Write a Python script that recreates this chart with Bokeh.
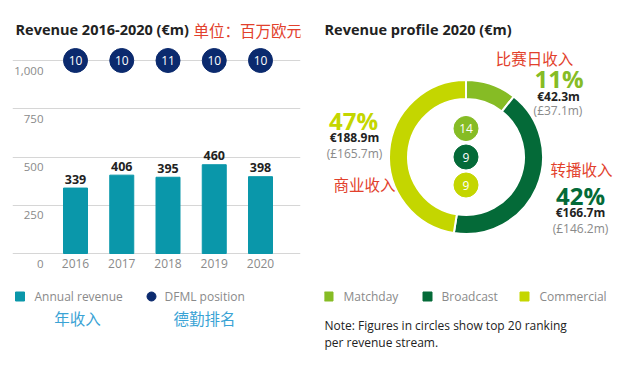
import math
from bokeh.plotting import figure
from bokeh.layouts import row
from bokeh.models import Range1d, FixedTicker, Label
from bokeh.core.properties import value
from bokeh.embed import file_html
from bokeh.resources import INLINE

# ---------------- data ----------------
years = ["2016", "2017", "2018", "2019", "2020"]
revenue = [339, 406, 395, 460, 398]
dfml_position = [10, 10, 11, 10, 10]
y_ticks = [0, 250, 500, 750, 1000]
y_tick_labels = ["0", "250", "500", "750", "1,000"]

streams = ["Matchday", "Broadcast", "Commercial"]
streams_cn = ["比赛日收入", "转播收入", "商业收入"]
revenue_eur = [42.3, 166.7, 188.9]
revenue_gbp = [37.1, 146.2, 165.7]
share_pct = [11, 42, 47]
stream_rank = [14, 9, 9]

# ---------------- styles ----------------
FONT = "Open Sans"
CJK = "Noto Sans CJK SC"
TEAL = "#0a97aa"
NAVY = "#0b2a6e"
RED = "#e2412c"
BLUE_CN = "#3aa3d5"
GRID = "#d6d6d6"
GREY = "#8a8a8a"
DARK = "#222222"
STREAM_COLORS = ["#86bc25", "#046a38", "#c4d600"]

# ---------------- left: bar chart ----------------
# page-pixel geometry of the left panel
X0_PX, STEP_PX = 75.0, 46.25        # centre of first bar, bar spacing
Y0_PX, PX_PER_UNIT = 253.0, 0.193   # zero line, pixels per EUR m
LEFT_W, H = 324, 363
FRAME_L, FRAME_R = 12, 300


def lx(px):
    return (px - X0_PX) / STEP_PX


def ly(py):
    return (Y0_PX - py) / PX_PER_UNIT


pl = figure(width=LEFT_W, height=H, output_backend="svg", toolbar_location=None,
            x_axis_location=None, y_axis_location=None,
            x_range=Range1d(lx(FRAME_L), lx(FRAME_R)), y_range=Range1d(ly(H), ly(0)),
            min_border_left=FRAME_L, min_border_right=LEFT_W - FRAME_R,
            min_border_top=0, min_border_bottom=0)
pl.outline_line_color = None
pl.background_fill_color = "white"
pl.border_fill_color = "white"
pl.xgrid.visible = False
pl.ygrid.ticker = FixedTicker(ticks=y_ticks)
pl.ygrid.grid_line_color = GRID
pl.ygrid.grid_line_width = 1

idx = list(range(len(years)))
pl.vbar(x=idx, top=revenue, bottom=0, width=24 / STEP_PX, color=TEAL)

# y tick labels (placed under their gridlines)
pl.text(x=[lx(43)] * len(y_ticks), y=y_ticks, text=y_tick_labels, y_offset=10,
        text_align="right", text_baseline="middle", text_font=value(FONT),
        text_font_size="11.5px", text_color=GREY)
# year labels
pl.text(x=idx, y=[0] * len(idx), text=years, y_offset=10, text_align="center",
        text_baseline="middle", text_font=value(FONT), text_font_size="12px",
        text_color=GREY)
# bar value labels
pl.text(x=idx, y=revenue, text=[str(v) for v in revenue], y_offset=-9,
        text_align="center", text_baseline="middle", text_font=value(FONT),
        text_font_size="12.5px", text_font_style="bold", text_color=DARK)
# DFML position circles on the top gridline
top = [y_ticks[-1]] * len(idx)
pl.scatter(x=idx, y=top, size=24, color=NAVY)
pl.text(x=idx, y=top, text=[str(v) for v in dfml_position], text_align="center",
        text_baseline="middle", text_font=value(FONT), text_font_size="12px",
        text_color="white")

# titles
pl.add_layout(Label(x=lx(15), y=ly(29), text="Revenue 2016-2020 (€m)", text_font=FONT,
                    text_font_size="14.5px", text_font_style="bold", text_color=DARK,
                    text_baseline="middle", text_align="left"))
pl.add_layout(Label(x=lx(193), y=ly(29), text="单位：百万欧元", text_font=CJK,
                    text_font_size="15.5px", text_color=RED,
                    text_baseline="middle", text_align="left"))
# legend
pl.scatter(x=[lx(19.5)], y=[ly(296)], marker="square", size=9, color=TEAL)
pl.scatter(x=[lx(151)], y=[ly(296)], marker="circle", size=9, color=NAVY)
for tx, txt in ((34, "Annual revenue"), (164, "DFML position")):
    pl.add_layout(Label(x=lx(tx), y=ly(296), text=txt, text_font=FONT, text_font_size="12px",
                        text_color=GREY, text_baseline="middle", text_align="left"))
for tx, txt in ((77, "年收入"), (204, "德勤排名")):
    pl.add_layout(Label(x=lx(tx), y=ly(317), text=txt, text_font=CJK, text_font_size="15.5px",
                        text_color=BLUE_CN, text_baseline="middle", text_align="center"))

# ---------------- right: donut ----------------
RIGHT_X0, RIGHT_W = 324, 312


def ry(py):
    return 371 - py


pr = figure(width=RIGHT_W, height=H, output_backend="svg", toolbar_location=None,
            x_axis_location=None, y_axis_location=None,
            x_range=Range1d(RIGHT_X0, RIGHT_X0 + RIGHT_W), y_range=Range1d(ry(H), ry(0)),
            min_border_left=0, min_border_right=0, min_border_top=0, min_border_bottom=0)
pr.outline_line_color = None
pr.grid.visible = False
pr.background_fill_color = "white"
pr.border_fill_color = "white"

CX, CY = 465.5, ry(156.5)
total = sum(revenue_eur)
starts, ends = [], []
cum = 0.0
for v in revenue_eur:
    starts.append(math.pi / 2 - 2 * math.pi * cum)
    cum += v / total
    ends.append(math.pi / 2 - 2 * math.pi * cum)
pr.annular_wedge(x=[CX] * 3, y=[CY] * 3, inner_radius=58, outer_radius=77,
                 start_angle=starts, end_angle=ends, direction="clock",
                 fill_color=STREAM_COLORS, line_color="white", line_width=2)

# ranking circles
rank_y = [CY + 28.5, CY, CY - 28]
pr.scatter(x=[CX] * 3, y=rank_y, size=24, color=STREAM_COLORS)
pr.text(x=[CX] * 3, y=rank_y, text=[str(r) for r in stream_rank], text_align="center",
        text_baseline="middle", text_font=value(FONT), text_font_size="12px",
        text_color="white")

# stream annotations (page-pixel anchor positions)
cn_pos = [(534, 57), (581, 168), (364, 183)]
pct_pos = [(558.5, 78), (580, 195), (353, 120)]
eur_pos = [(558, 96), (580, 212), (354, 137)]
gbp_pos = [(557.5, 110), (580, 228), (354, 153)]

pr.text(x=[p[0] for p in cn_pos], y=[ry(p[1]) for p in cn_pos], text=streams_cn,
        text_align="center", text_baseline="middle", text_font=value(CJK),
        text_font_size="15.5px", text_color=RED)
pr.text(x=[p[0] for p in pct_pos], y=[ry(p[1]) for p in pct_pos],
        text=[f"{v}%" for v in share_pct], text_align="center", text_baseline="middle",
        text_font=value(FONT), text_font_size="24px", text_font_style="bold",
        text_color=STREAM_COLORS)
pr.text(x=[p[0] for p in eur_pos], y=[ry(p[1]) for p in eur_pos],
        text=[f"€{v}m" for v in revenue_eur], text_align="center", text_baseline="middle",
        text_font=value(FONT), text_font_size="12px", text_font_style="bold",
        text_color=DARK)
pr.text(x=[p[0] for p in gbp_pos], y=[ry(p[1]) for p in gbp_pos],
        text=[f"(£{v}m)" for v in revenue_gbp], text_align="center", text_baseline="middle",
        text_font=value(FONT), text_font_size="12px", text_color=GREY)

pr.add_layout(Label(x=324, y=ry(29), text="Revenue profile 2020 (€m)", text_font=FONT,
                    text_font_size="14.5px", text_font_style="bold", text_color=DARK,
                    text_baseline="middle", text_align="left"))

# legend
leg_sq_x = [328, 427, 524]
leg_tx_x = [343, 441, 539]
pr.scatter(x=leg_sq_x, y=[ry(296)] * 3, marker="square", size=9, color=STREAM_COLORS)
pr.text(x=leg_tx_x, y=[ry(296)] * 3, text=streams, text_align="left",
        text_baseline="middle", text_font=value(FONT), text_font_size="12px",
        text_color=GREY)

for yy, txt in ((325, "Note: Figures in circles show top 20 ranking"),
                (342, "per revenue stream.")):
    pr.add_layout(Label(x=324, y=ry(yy), text=txt, text_font=FONT, text_font_size="12px",
                        text_color=DARK, text_baseline="middle", text_align="left"))

layout = row(pl, pr)
open("out.html", "w").write(file_html(layout, INLINE))
